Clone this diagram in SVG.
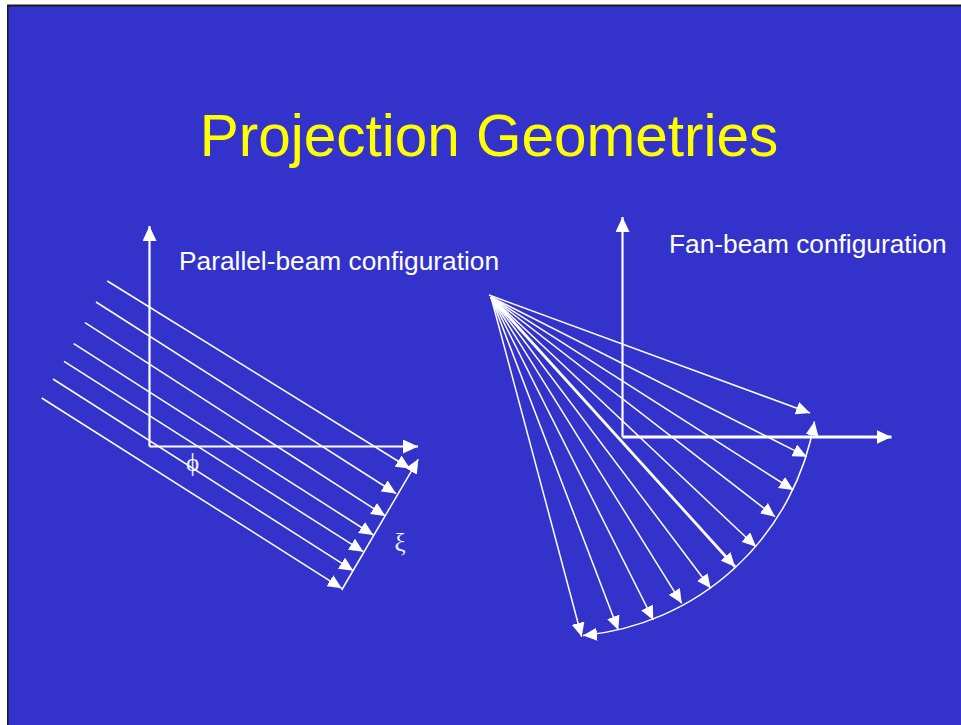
<svg xmlns="http://www.w3.org/2000/svg" width="961" height="725" viewBox="0 0 961 725">
  <style>
    .ray { stroke: #ffffff; stroke-width: 1.5; fill: none; marker-end: url(#ah); }
    .axis { stroke: #ffffff; stroke-width: 2.2; fill: none; marker-end: url(#axh); }
    .lbl { font-family: "Liberation Sans", Arial, sans-serif; font-size: 26.3px; fill: #ffffff; }
    .sym { font-family: "Liberation Serif", "Times New Roman", serif; font-size: 25px; fill: #f0f0ff; }
    .title { font-family: "Liberation Sans", Arial, sans-serif; font-size: 58.5px; fill: #ffff00; }
  </style>
  <defs>
    <marker id="ah" viewBox="0 0 14 13" refX="14" refY="6.5" markerWidth="14" markerHeight="13" markerUnits="userSpaceOnUse" orient="auto">
      <path d="M0,0 L14,6.5 L0,13 z" fill="#ffffff"/>
    </marker>
    <marker id="axh" viewBox="0 0 15 14" refX="15" refY="7" markerWidth="15" markerHeight="14" markerUnits="userSpaceOnUse" orient="auto">
      <path d="M0,0 L15,7 L0,14 z" fill="#ffffff"/>
    </marker>
    <marker id="ahs" viewBox="0 0 14 13" refX="14" refY="6.5" markerWidth="14" markerHeight="13" markerUnits="userSpaceOnUse" orient="auto-start-reverse">
      <path d="M0,0 L14,6.5 L0,13 z" fill="#ffffff"/>
    </marker>
  </defs>

  <!-- slide frame -->
  <rect x="0" y="0" width="961" height="725" fill="#ffffff"/>
  <rect x="7" y="4.5" width="954" height="720.5" fill="#1a1a1a"/>
  <rect x="8.5" y="6.5" width="952.5" height="718.5" fill="#3333cc"/>

  <g id="title">
    <text class="title" x="489" y="156" text-anchor="middle">Projection Geometries</text>
  </g>

  <!-- Parallel-beam configuration -->
  <g id="parallel-label">
    <text class="lbl" x="179" y="270">Parallel-beam configuration</text>
  </g>
  <g id="parallel-axes">
    <line class="axis" x1="149.5" y1="446.5" x2="149.5" y2="226"/>
    <line class="axis" x1="149.5" y1="446.5" x2="418" y2="446.5"/>
  </g>
  <g id="parallel-rays">
    <line class="ray" x1="107.3" y1="281" x2="410" y2="468.5"/>
    <line class="ray" x1="96" y1="302" x2="396" y2="493.5"/>
    <line class="ray" x1="85" y1="322.7" x2="385.3" y2="516"/>
    <line class="ray" x1="73.7" y1="343.7" x2="373.3" y2="535"/>
    <line class="ray" x1="64" y1="361.3" x2="363.3" y2="551.7"/>
    <line class="ray" x1="53" y1="379" x2="353.3" y2="570.7"/>
    <line class="ray" x1="41.7" y1="398" x2="341.7" y2="588.3"/>
  </g>
  <g id="xi-axis">
    <line class="ray" x1="341.7" y1="590" x2="418.3" y2="459.3"/>
  </g>
  <g id="phi-label">
    <text class="sym" x="192.5" y="471" text-anchor="middle">ϕ</text>
  </g>
  <g id="xi-label">
    <text class="sym" x="400" y="551" text-anchor="middle">ξ</text>
  </g>

  <!-- Fan-beam configuration -->
  <g id="fan-label">
    <text class="lbl" x="669" y="253">Fan-beam configuration</text>
  </g>
  <g id="fan-axes">
    <line class="axis" x1="622.5" y1="437" x2="622.5" y2="217"/>
    <line class="axis" x1="622.5" y1="437" x2="891.5" y2="437" style="stroke-width:3"/>
  </g>
  <g id="fan-rays">
    <line class="ray" x1="489" y1="295" x2="810" y2="413"/>
    <line class="ray" x1="491" y1="297" x2="806.7" y2="456.7"/>
    <line class="ray" x1="491" y1="297" x2="793.3" y2="490"/>
    <line class="ray" x1="491" y1="297" x2="775" y2="516.7"/>
    <line class="ray" x1="491" y1="297" x2="756" y2="546.7"/>
    <line class="ray" x1="491" y1="297" x2="735" y2="566.7" style="stroke-width:2.8"/>
    <line class="ray" x1="491" y1="297" x2="710.7" y2="588.3"/>
    <line class="ray" x1="491" y1="297" x2="681.7" y2="603.3"/>
    <line class="ray" x1="491" y1="297" x2="653.3" y2="620"/>
    <line class="ray" x1="491" y1="297" x2="618.3" y2="630"/>
    <line class="ray" x1="491" y1="297" x2="581.7" y2="636.7"/>
  </g>
  <g id="detector-arc">
    <path d="M583,635.5 A259,259 0 0 0 814.5,421.5" fill="none" stroke="#ffffff" stroke-width="1.5" marker-start="url(#ahs)" marker-end="url(#ah)"/>
  </g>
</svg>
